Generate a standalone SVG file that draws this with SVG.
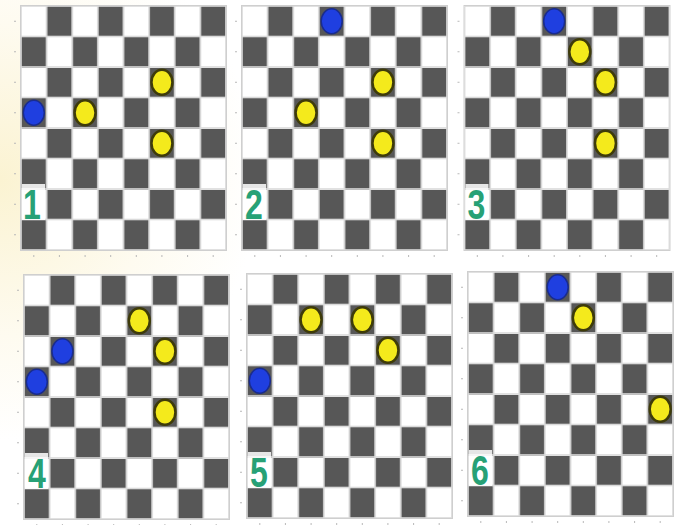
<svg xmlns="http://www.w3.org/2000/svg" xmlns:xlink="http://www.w3.org/1999/xlink" width="677" height="525" viewBox="0 0 677 525">
<defs>
<style>
.frame{fill:none;stroke:#cfcfcf;stroke-width:1}
.y{fill:#f4ea1c;stroke:#3e3b0a;stroke-width:2.5}
.b{fill:#1f3fe0;stroke:#1a2c8c;stroke-width:1.5}
.lbl{font-family:"Liberation Sans",Arial,sans-serif;font-weight:bold;font-size:32px;fill:#27a176;text-anchor:middle}
.lblbg{fill:#ffffff;opacity:0.85}
.tick{stroke:#b8b8b8;stroke-width:1}
</style>
<radialGradient id="glow" cx="0" cy="180" r="260" gradientUnits="userSpaceOnUse">
<stop offset="0" stop-color="#fbf3d2"/>
<stop offset="0.6" stop-color="#fefbf0"/>
<stop offset="1" stop-color="#ffffff"/>
</radialGradient>
<pattern id="checks" patternUnits="userSpaceOnUse" x="0" y="0" width="51.25" height="61">
<rect x="0" y="0" width="51.25" height="61" fill="#dadada"/>
<rect x="0.8" y="0.8" width="24" height="28.9" fill="#ffffff"/>
<rect x="26.4" y="0.8" width="24" height="28.9" fill="#575757"/>
<rect x="0.8" y="31.3" width="24" height="28.9" fill="#575757"/>
<rect x="26.4" y="31.3" width="24" height="28.9" fill="#ffffff"/>
</pattern>
<g id="board">
<rect x="0" y="0" width="205" height="244" fill="url(#checks)"/>
<rect class="frame" x="-0.5" y="-0.5" width="206" height="245"/>
<g class="tick">
<line x1="-7" y1="15.25" x2="-5" y2="15.25"/><line x1="-7" y1="45.75" x2="-5" y2="45.75"/>
<line x1="-7" y1="76.25" x2="-5" y2="76.25"/><line x1="-7" y1="106.75" x2="-5" y2="106.75"/>
<line x1="-7" y1="137.25" x2="-5" y2="137.25"/><line x1="-7" y1="167.75" x2="-5" y2="167.75"/>
<line x1="-7" y1="198.25" x2="-5" y2="198.25"/><line x1="-7" y1="228.75" x2="-5" y2="228.75"/>
<line x1="12.8" y1="249" x2="12.8" y2="251"/><line x1="38.4" y1="249" x2="38.4" y2="251"/>
<line x1="64.1" y1="249" x2="64.1" y2="251"/><line x1="89.7" y1="249" x2="89.7" y2="251"/>
<line x1="115.3" y1="249" x2="115.3" y2="251"/><line x1="140.9" y1="249" x2="140.9" y2="251"/>
<line x1="166.6" y1="249" x2="166.6" y2="251"/><line x1="192.2" y1="249" x2="192.2" y2="251"/>
</g>
</g>
</defs>
<rect x="0" y="0" width="677" height="525" fill="url(#glow)"/>

<g id="board1" transform="translate(21,6)">
<use xlink:href="#board"/>
<ellipse class="b" cx="12.81" cy="106.75" rx="10.5" ry="12.5"/>
<ellipse class="y" cx="64.06" cy="106.75" rx="10.5" ry="12.5"/>
<ellipse class="y" cx="140.94" cy="76.25" rx="10.5" ry="12.5"/>
<ellipse class="y" cx="140.94" cy="137.25" rx="10.5" ry="12.5"/>
<rect class="lblbg" x="1" y="178" width="23" height="36"/>
<text class="lbl" transform="translate(11,213) scale(1,1.35)">1</text>
</g>

<g id="board2" transform="translate(242,6)">
<use xlink:href="#board"/>
<ellipse class="b" cx="89.69" cy="15.25" rx="10.5" ry="12.5"/>
<ellipse class="y" cx="140.94" cy="76.25" rx="10.5" ry="12.5"/>
<ellipse class="y" cx="64.06" cy="106.75" rx="10.5" ry="12.5"/>
<ellipse class="y" cx="140.94" cy="137.25" rx="10.5" ry="12.5"/>
<rect class="lblbg" x="1" y="178" width="23" height="36"/>
<text class="lbl" transform="translate(12,213) scale(1,1.35)">2</text>
</g>

<g id="board3" transform="translate(464.5,6)">
<use xlink:href="#board"/>
<ellipse class="b" cx="89.69" cy="15.25" rx="10.5" ry="12.5"/>
<ellipse class="y" cx="115.31" cy="45.75" rx="10.5" ry="12.5"/>
<ellipse class="y" cx="140.94" cy="76.25" rx="10.5" ry="12.5"/>
<ellipse class="y" cx="140.94" cy="137.25" rx="10.5" ry="12.5"/>
<rect class="lblbg" x="1" y="178" width="23" height="36"/>
<text class="lbl" transform="translate(12,213) scale(1,1.35)">3</text>
</g>

<g id="board4" transform="translate(24,275)">
<use xlink:href="#board"/>
<ellipse class="b" cx="38.44" cy="76.25" rx="10.5" ry="12.5"/>
<ellipse class="b" cx="12.81" cy="106.75" rx="10.5" ry="12.5"/>
<ellipse class="y" cx="115.31" cy="45.75" rx="10.5" ry="12.5"/>
<ellipse class="y" cx="140.94" cy="76.25" rx="10.5" ry="12.5"/>
<ellipse class="y" cx="140.94" cy="137.25" rx="10.5" ry="12.5"/>
<rect class="lblbg" x="1" y="178" width="23" height="36"/>
<text class="lbl" transform="translate(13,213) scale(1,1.35)">4</text>
</g>

<g id="board5" transform="translate(247,274)">
<use xlink:href="#board"/>
<ellipse class="y" cx="64.06" cy="45.75" rx="10.5" ry="12.5"/>
<ellipse class="y" cx="115.31" cy="45.75" rx="10.5" ry="12.5"/>
<ellipse class="y" cx="140.94" cy="76.25" rx="10.5" ry="12.5"/>
<ellipse class="b" cx="12.81" cy="106.75" rx="10.5" ry="12.5"/>
<rect class="lblbg" x="1" y="178" width="23" height="36"/>
<text class="lbl" transform="translate(12,213) scale(1,1.35)">5</text>
</g>

<g id="board6" transform="translate(468,272)">
<use xlink:href="#board"/>
<ellipse class="b" cx="89.69" cy="15.25" rx="10.5" ry="12.5"/>
<ellipse class="y" cx="115.31" cy="45.75" rx="10.5" ry="12.5"/>
<ellipse class="y" cx="192.19" cy="137.25" rx="10.5" ry="12.5"/>
<rect class="lblbg" x="1" y="178" width="23" height="36"/>
<text class="lbl" transform="translate(12,213) scale(1,1.35)">6</text>
</g>
</svg>
